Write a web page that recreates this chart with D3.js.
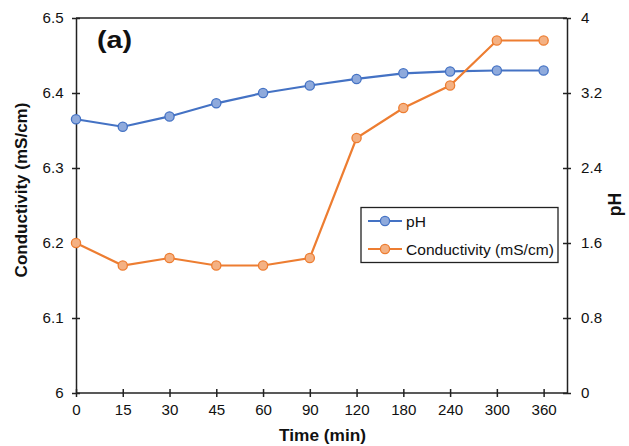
<!DOCTYPE html>
<html><head><meta charset="utf-8">
<script src="https://cdn.jsdelivr.net/npm/d3@7"></script>
<style>body{margin:0;background:#fff}svg{display:block;font-family:"Liberation Sans",Arial,sans-serif}</style>
</head><body><svg id="c" width="629" height="446"></svg>
<script>
const categories = ["0","15","30","45","60","90","120","180","240","300","360"];
const phValues = [2.92,2.84,2.95,3.09,3.20,3.28,3.35,3.41,3.43,3.44,3.44];
const conductivity = [6.20,6.17,6.18,6.17,6.17,6.18,6.34,6.38,6.41,6.47,6.47];
const leftTicks = [6,6.1,6.2,6.3,6.4,6.5];
const rightTicks = [0,0.8,1.6,2.4,3.2,4];

const svg = d3.select("#c");
const L=76,R=567,T=18,B=393;
const x = d3.scaleLinear().domain([0,categories.length-0.5]).range([L,R]);
const yL = d3.scaleLinear().domain([6,6.5]).range([B,T]);
const yR = d3.scaleLinear().domain([0,4]).range([B,T]);
const ink="#222", txt="#111";

// frame top
svg.append("line").attr("x1",L).attr("x2",R).attr("y1",T).attr("y2",T).attr("stroke",ink).attr("stroke-width",1.5);

// axes
const gx = svg.append("g").attr("transform",`translate(0,${B})`)
  .call(d3.axisBottom(x).tickValues(d3.range(categories.length)).tickFormat(i=>categories[i]).tickSizeInner(4).tickSizeOuter(0).tickPadding(8));
gx.selectAll(".tick line").attr("y1",-4);
const gl = svg.append("g").attr("transform",`translate(${L},0)`)
  .call(d3.axisLeft(yL).tickValues(leftTicks).tickFormat(d=>d3.format("")(d)).tickSizeInner(4).tickSizeOuter(0).tickPadding(8));
gl.selectAll(".tick line").attr("x1",4);
const gr = svg.append("g").attr("transform",`translate(${R},0)`)
  .call(d3.axisRight(yR).tickValues(rightTicks).tickFormat(d=>d3.format("")(d)).tickSizeInner(4).tickSizeOuter(0).tickPadding(10));
gr.selectAll(".tick line").attr("x1",-4);
[gx,gl,gr].forEach(g=>{
  g.attr("font-family",null).attr("font-size",null);
  g.select(".domain").attr("stroke",ink).attr("stroke-width",1.5);
  g.selectAll(".tick line").attr("stroke",ink).attr("stroke-width",1.5);
  g.selectAll(".tick text").attr("fill",txt).style("font-size","14px");
});
gx.selectAll(".tick text").attr("transform","scale(1.08,1)");
gl.selectAll(".tick text").attr("transform","scale(1.08,1)").attr("x",-11.5);
gr.selectAll(".tick text").attr("transform","scale(1.08,1)").attr("x",13);
gx.select(".domain").attr("d",`M${L},0H${R}`);

// series
const series = [
  {name:"pH", vals:phValues, y:yR, stroke:"#4472C4", fill:"#8FAADC"},
  {name:"Conductivity (mS/cm)", vals:conductivity, y:yL, stroke:"#ED7D31", fill:"#F4B183"}
];
series.forEach(s=>{
  svg.append("path").datum(s.vals)
    .attr("d",d3.line().x((d,i)=>x(i)).y(d=>s.y(d)))
    .attr("fill","none").attr("stroke",s.stroke).attr("stroke-width",2.2);
  svg.selectAll(null).data(s.vals).enter().append("circle")
    .attr("cx",(d,i)=>x(i)).attr("cy",d=>s.y(d)).attr("r",4.6)
    .attr("fill",s.fill).attr("stroke",s.stroke).attr("stroke-width",1.3);
});

// legend
const lg = svg.append("g");
lg.append("rect").attr("x",361).attr("y",207.5).attr("width",197).attr("height",55)
  .attr("fill","#fff").attr("stroke",ink).attr("stroke-width",1.3);
series.forEach((s,k)=>{
  const yy = 221 + k*28;
  lg.append("line").attr("x1",368).attr("x2",402).attr("y1",yy).attr("y2",yy).attr("stroke",s.stroke).attr("stroke-width",2.2);
  lg.append("circle").attr("cx",385).attr("cy",yy).attr("r",4.6).attr("fill",s.fill).attr("stroke",s.stroke).attr("stroke-width",1.3);
  lg.append("text").attr("transform",`translate(406,${yy+5.5}) scale(1.06,1)`).text(s.name).attr("fill",txt).style("font-size","14.7px");
});

// titles
svg.append("text").attr("transform","translate(97,48) scale(1.25,1)").text("(a)").style("font-weight","bold").style("font-size","23px").attr("fill",txt);
svg.append("text").attr("transform","translate(26.5,190) rotate(-90)").attr("text-anchor","middle")
  .text("Conductivity (mS/cm)").style("font-weight","bold").style("font-size","17px").attr("fill",txt);
svg.append("text").attr("transform","translate(621,204.5) rotate(-90)").attr("text-anchor","middle")
  .text("pH").style("font-weight","bold").style("font-size","17.5px").attr("fill",txt);
svg.append("text").attr("transform","translate(322.5,441) scale(1.08,1)").attr("text-anchor","middle")
  .text("Time (min)").style("font-weight","bold").style("font-size","16px").attr("fill",txt);
</script></body></html>
